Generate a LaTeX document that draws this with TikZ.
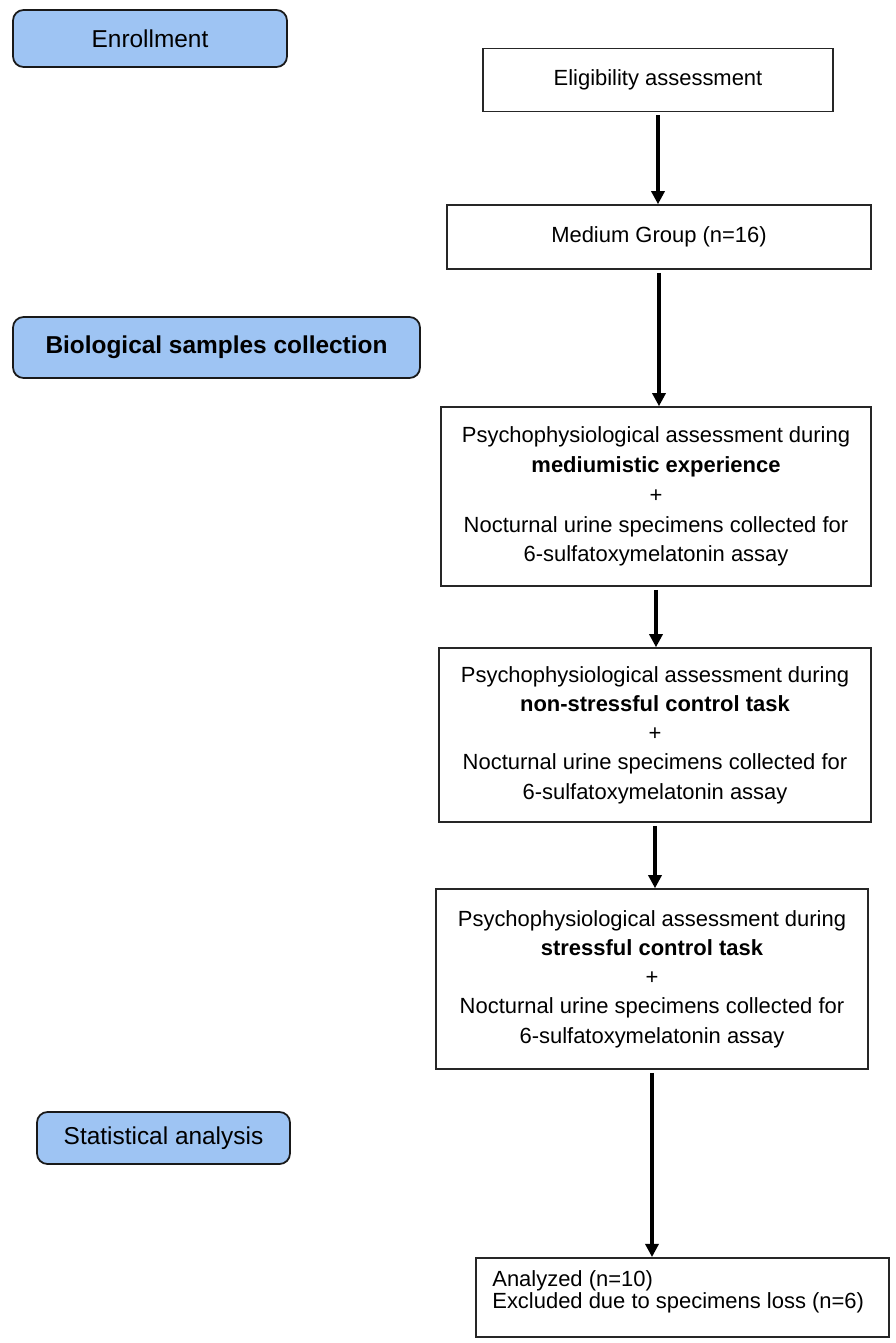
\documentclass[tikz,border=0pt]{standalone}
\usepackage{fontspec}
\setmainfont{Liberation Sans}
\usepackage{tikz}
\usetikzlibrary{positioning}
\usetikzlibrary{arrows.meta}

\definecolor{phaseblue}{RGB}{158,196,243}
\newcommand{\pxl}{0.02cm}
\newcommand{\boxfont}{\fontsize{12.5}{16.6}\selectfont}
\newcommand{\phasefont}{\fontsize{13.9}{16}\selectfont}

\begin{document}
\begin{tikzpicture}[x=0.02cm, y=-0.02cm,
	phase/.style={draw=black!90, line width=1pt, rounded corners=6pt, fill=phaseblue, font=\phasefont, inner sep=0pt},
	stepbox/.style={draw=black!85, line width=0.9pt, fill=white, font=\boxfont, align=center, inner sep=0pt},
	flow/.style={line width=1.8pt, shorten <=0.06cm, -{Triangle[length=7.5pt,width=7.5pt]}}]
	\useasboundingbox (0,0) rectangle (896,1343);
	% phases
	\node[phase, minimum width=274*\pxl, minimum height=57*\pxl] (enroll) at (150,38.5) {Enrollment};
	\node[phase, minimum width=407*\pxl, minimum height=61*\pxl] (biosamples) at (216.5,347.5) {\textbf{Biological samples collection}};
	\node[phase, minimum width=253*\pxl, minimum height=52*\pxl] (statanalysis) at (163.5,1138) {Statistical analysis};
	% flow
	\path (658,80) node[stepbox, minimum width=350*\pxl, minimum height=63*\pxl] (elig) {Eligibility assessment}
	++(1,157) node[stepbox, minimum width=424*\pxl, minimum height=64*\pxl] (medium) {Medium Group (n=16)}
	++(-3,259.5) node[stepbox, minimum width=430*\pxl, minimum height=179*\pxl, font=\fontsize{12.5}{17}\selectfont] (mediumistic) {Psychophysiological assessment during\\\textbf{mediumistic experience}\\+\\Nocturnal urine specimens collected for\\6-sulfatoxymelatonin assay}
	++(-1,238.5) node[stepbox, minimum width=432*\pxl, minimum height=174*\pxl] (nonstress) {Psychophysiological assessment during\\\textbf{non-stressful control task}\\+\\Nocturnal urine specimens collected for\\6-sulfatoxymelatonin assay}
	++(-3,244) node[stepbox, minimum width=432*\pxl, minimum height=180*\pxl] (stress) {Psychophysiological assessment during\\\textbf{stressful control task}\\+\\Nocturnal urine specimens collected for\\6-sulfatoxymelatonin assay};
	\node[stepbox, minimum width=413*\pxl, minimum height=79*\pxl, anchor=north west] (result) at (475,1257) {};
	\node[font=\fontsize{12.5}{10.5}\selectfont, align=left, anchor=north west, inner sep=0pt] (resulttext) at ([xshift=17*\pxl, yshift=-13*\pxl]result.north west) {Analyzed (n=10)\\Excluded due to specimens loss (n=6)};
	\draw[flow] (elig.south) -- (elig.south |- medium.north);
	\draw[flow] (medium.south) -- (medium.south |- mediumistic.north);
	\draw[flow] (mediumistic.south) -- (mediumistic.south |- nonstress.north);
	\draw[flow] (nonstress.south) -- (nonstress.south |- stress.north);
	\draw[flow] (stress.south) -- (stress.south |- result.north);
\end{tikzpicture}
\end{document}
